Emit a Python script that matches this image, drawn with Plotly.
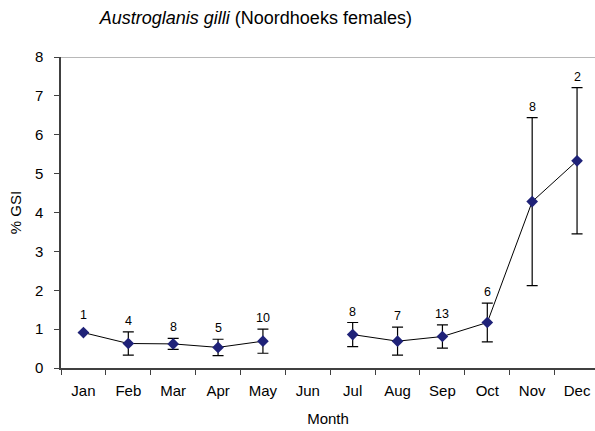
import plotly.graph_objects as go

months = ["Jan", "Feb", "Mar", "Apr", "May", "Jun", "Jul", "Aug", "Sep", "Oct", "Nov", "Dec"]
gsi_mean = [0.91, 0.63, 0.62, 0.53, 0.69, None, 0.86, 0.69, 0.81, 1.17, 4.28, 5.33]
gsi_err = [0.0, 0.30, 0.14, 0.21, 0.31, None, 0.31, 0.36, 0.30, 0.50, 2.16, 1.88]
n_fish = [1, 4, 8, 5, 10, None, 8, 7, 13, 6, 8, 2]

font_family = "Liberation Sans, Arial, sans-serif"

fig = go.Figure()
fig.add_trace(go.Scatter(
    x=months,
    y=gsi_mean,
    mode="lines+markers",
    line=dict(color="black", width=1),
    marker=dict(symbol="diamond", size=9, color="#1f2278"),
    error_y=dict(type="data", array=gsi_err, visible=True,
                 color="black", thickness=1.2, width=5.5),
    connectgaps=False,
    showlegend=False,
))

# sample size above each error bar
for m, v, e, n in zip(months, gsi_mean, gsi_err, n_fish):
    if v is None:
        continue
    fig.add_annotation(x=m, y=v + e, text=str(n), showarrow=False,
                       yanchor="bottom", yshift=2 if e else 9,
                       font=dict(size=12.5, color="black", family=font_family))

# top border of the plot area
fig.add_shape(type="line", xref="paper", yref="y", x0=0, x1=1, y0=8, y1=8,
              line=dict(color="#a0a0a0", width=1.5))

fig.update_layout(
    width=595, height=431,
    margin=dict(l=61, r=0, t=57, b=63),
    paper_bgcolor="white", plot_bgcolor="white",
    font=dict(family=font_family, size=15, color="black"),
    title=dict(text="<i>Austroglanis gilli</i> (Noordhoeks females)",
               x=0.43, xanchor="center", y=0.958, yanchor="middle",
               font=dict(size=18, family=font_family, color="black")),
    xaxis=dict(
        type="category", categoryorder="array", categoryarray=months,
        range=[-0.5, 11.4],
        tickson="boundaries", ticks="outside", ticklen=5, tickcolor="#404040",
        showline=True, linecolor="#404040", linewidth=1.5,
        showgrid=False, zeroline=False,
        ticklabelstandoff=8,
        title=dict(text="Month", font=dict(size=15), standoff=16),
        tickfont=dict(size=15),
    ),
    yaxis=dict(
        range=[0, 8], dtick=1, ticks="outside", ticklen=5, tickcolor="#404040",
        showline=True, linecolor="#404040", linewidth=1.5,
        showgrid=False, zeroline=False,
        ticklabelstandoff=8,
        title=dict(text="% GSI", font=dict(size=15), standoff=10),
        tickfont=dict(size=15),
    ),
)

fig.write_html("out.html")
